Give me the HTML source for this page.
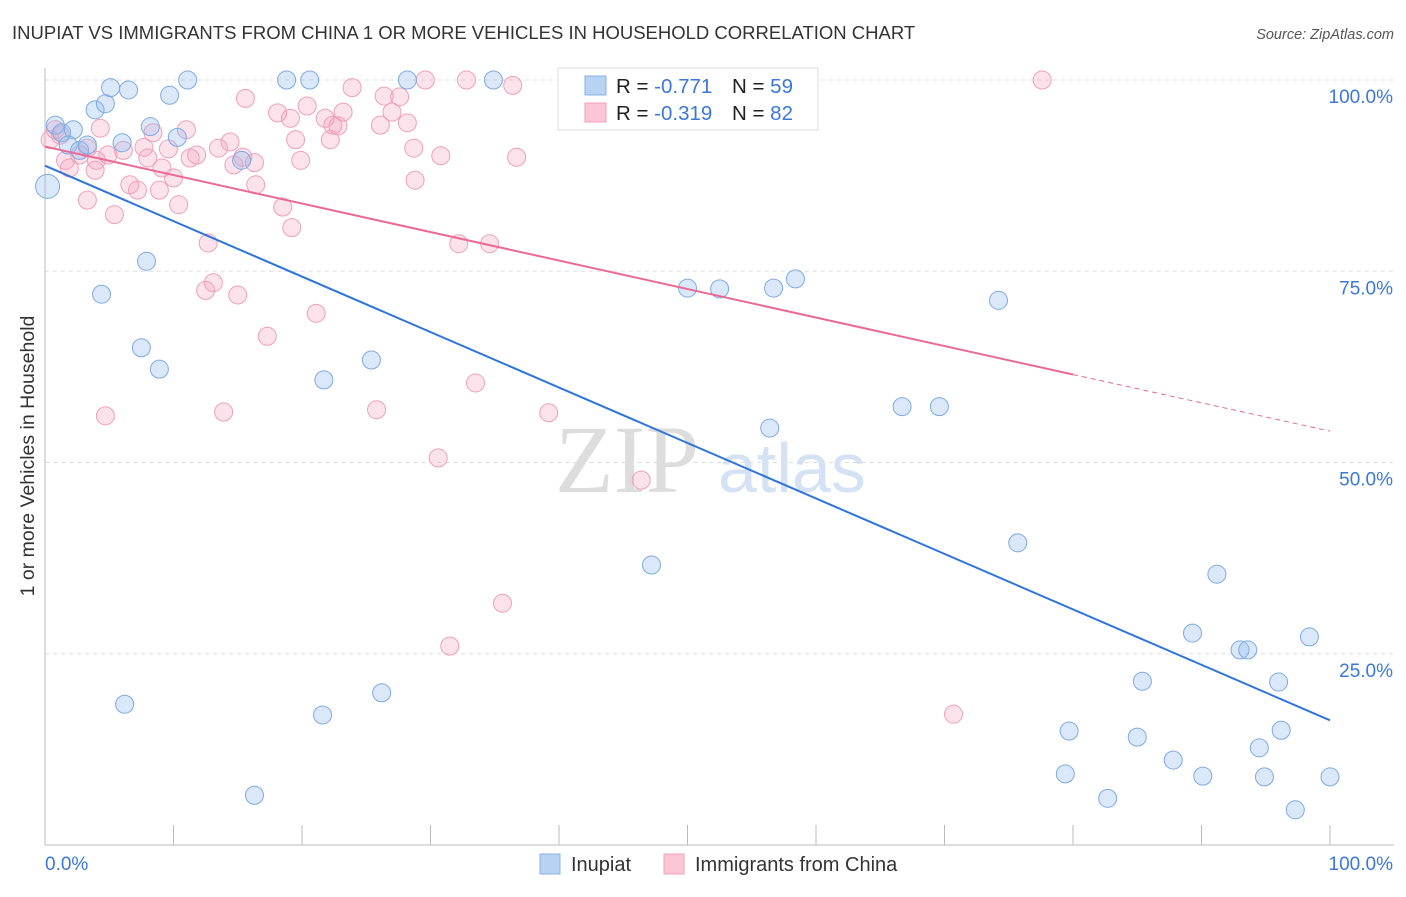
<!DOCTYPE html>
<html><head><meta charset="utf-8"><style>
body{margin:0;background:#fff;font-family:"Liberation Sans",sans-serif}
svg text{font-family:"Liberation Sans",sans-serif}
</style></head><body>
<svg id="c" width="1406" height="892" xmlns="http://www.w3.org/2000/svg">
<text x="12" y="39" font-size="18.5" fill="#333">INUPIAT VS IMMIGRANTS FROM CHINA 1 OR MORE VEHICLES IN HOUSEHOLD CORRELATION CHART</text>
<text x="1394" y="39" font-size="14.5" fill="#555" font-style="italic" text-anchor="end">Source: ZipAtlas.com</text>
<text transform="translate(34,456) rotate(-90)" font-size="19.5" fill="#333" text-anchor="middle">1 or more Vehicles in Household</text>
<g id="grid"></g>
<text x="555" y="492" font-size="96" fill="#ddd" style="font-family:'Liberation Serif',serif">ZIP</text>
<text x="718" y="492" font-size="70" fill="#d4e2f4">atlas</text>
<g id="pts"></g>
<g id="lines"></g>
<g>
<rect x="558" y="68" width="260" height="62" fill="#fff" stroke="#ddd"/>
<rect x="585" y="76" width="21" height="19" fill="#b8d2f4" stroke="#8ab2e6"/>
<rect x="585" y="103" width="21" height="19" fill="#fcc6d6" stroke="#f0a0ba"/>
<text x="616" y="93" font-size="20.5" fill="#222">R = <tspan fill="#3b78d8">-0.771</tspan><tspan x="732">N = </tspan><tspan fill="#3b78d8">59</tspan></text>
<text x="616" y="120" font-size="20.5" fill="#222">R = <tspan fill="#3b78d8">-0.319</tspan><tspan x="732">N = </tspan><tspan fill="#3b78d8">82</tspan></text>
</g>
<g>
<rect x="540" y="854" width="20" height="20" fill="#b8d2f4" stroke="#8ab2e6"/>
<text x="571" y="871" font-size="20" fill="#333">Inupiat</text>
<rect x="664" y="854" width="20" height="20" fill="#fcc6d6" stroke="#f0a0ba"/>
<text x="695" y="871" font-size="20" fill="#333">Immigrants from China</text>
</g>
</svg>
<script>
const yTicks=[25,50,75,100];
const yTickLabels=["25.0%","50.0%","75.0%","100.0%"];
const xEndLabels=["0.0%","100.0%"];
const blueX=[0.2,0.8,1.3,2.2,1.8,2.7,3.3,3.9,4.7,5.1,6.5,6.0,8.2,9.7,10.3,11.1,15.3,18.8,20.6,28.2,34.9,7.9,4.4,7.5,8.9,21.7,25.4,6.2,21.6,26.2,16.3,47.2,50.0,52.5,56.7,58.4,74.2,56.4,66.7,69.6,75.7,91.2,89.3,93.0,93.6,98.4,85.4,96.0,79.7,85.0,96.2,94.5,79.4,87.8,90.1,94.9,100,82.7,97.3];
const blueY=[86.1,94.1,93.1,93.5,91.5,90.8,91.5,96.1,96.9,99.0,98.7,91.8,93.9,98.0,92.5,100,89.5,100,100,100,100,76.3,72.0,65.0,62.2,60.8,63.4,18.4,17.0,19.9,6.5,36.6,72.8,72.7,72.8,74.0,71.2,54.5,57.3,57.3,39.5,35.4,27.7,25.5,25.5,27.2,21.4,21.3,14.9,14.1,15.0,12.7,9.3,11.1,9.0,8.9,8.9,6.1,4.6];
const pinkX=[0.4,0.8,1.2,1.6,1.9,2.7,3.3,3.9,4.0,4.9,3.3,5.4,6.1,6.6,7.2,7.7,8.0,8.4,8.9,9.1,9.6,10.0,10.4,11.0,11.3,11.8,12.7,12.5,13.1,13.5,14.4,14.7,15.0,15.4,16.3,16.4,15.6,17.3,18.1,18.5,19.1,19.2,19.5,19.9,20.4,21.1,21.8,22.2,22.4,22.8,23.2,23.9,26.1,26.4,27.0,27.6,28.2,28.7,28.8,29.6,30.8,32.8,36.4,36.7,32.2,34.6,33.5,30.6,25.8,39.2,46.4,35.6,31.5,40.9,4.7,13.9,77.6,70.7,4.3];
const pinkY=[92.2,93.5,92.8,89.5,88.5,90.2,91.1,88.2,89.5,90.2,84.3,82.4,90.8,86.3,85.6,91.2,89.8,93.1,85.6,88.5,91.0,87.2,83.7,93.5,89.8,90.2,78.7,72.5,73.5,91.1,91.9,88.9,71.9,89.9,89.2,86.3,97.6,66.5,95.7,83.4,95.0,80.7,92.2,89.5,96.6,69.5,95.0,92.2,94.1,94.0,95.8,99.0,94.1,97.9,95.8,97.8,94.4,91.1,86.9,100,90.1,100,99.3,89.9,78.6,78.6,60.4,50.6,56.9,56.5,47.7,31.6,26.0,100,56.1,56.6,100,17.1,93.7];
const blueFit=[88.8,16.3];
const pinkFit=[91.3,61.5,80,54.1];
const NS="http://www.w3.org/2000/svg";
const X=v=>45+v*12.85, Y=v=>845-v*7.65;
function mk(t,a,p){const e=document.createElementNS(NS,t);for(const k in a)e.setAttribute(k,a[k]);p.appendChild(e);return e;}
const g=document.getElementById('grid');
yTicks.forEach((t,i)=>{
 const l=mk('line',{x1:45,x2:1394,y1:Y(t),y2:Y(t),stroke:'#ddd','stroke-dasharray':'4,4'},g);
 
 
 const tx=mk('text',{x:1393,y:Y(t)+23,'font-size':19,fill:'#3b78d8','text-anchor':'end'},g);tx.textContent=yTickLabels[i];
 
 
});
const ax=mk('line',{x1:45,x2:1394,y1:845,y2:845,stroke:'#bbb'},g);


const ay=mk('line',{x1:45,x2:45,y1:68,y2:845,stroke:'#bbb'},g);


for(let i=0;i<=10;i++){const t=mk('line',{x1:X(i*10),x2:X(i*10),y1:825,y2:845,stroke:'#bbb'},g);
 
 }
[[0,'start',45],[100,'end',1393]].forEach((d,i)=>{const t=mk('text',{x:d[2],y:870,'font-size':19,fill:'#3b78d8','text-anchor':d[1]},g);t.textContent=xEndLabels[i];
 
 });
const p=document.getElementById('pts');
pinkX.forEach((x,i)=>{const c=mk('circle',{cx:X(x),cy:Y(pinkY[i]),r:9,fill:'rgba(245,160,190,0.3)',stroke:'#eea0bb','stroke-width':1},p);
 
 });
blueX.forEach((x,i)=>{const c=mk('circle',{cx:X(x),cy:Y(blueY[i]),r:i==0?12:9,fill:'rgba(150,190,240,0.35)',stroke:'#7eaae2','stroke-width':1},p);
 
 });
const L=document.getElementById('lines');
const bl=mk('line',{x1:X(0),y1:Y(blueFit[0]),x2:X(100),y2:Y(blueFit[1]),stroke:'#2f74d8','stroke-width':2},L);


const pl=mk('line',{x1:X(0),y1:Y(pinkFit[0]),x2:X(pinkFit[2]),y2:Y(pinkFit[1]),stroke:'#e86a95','stroke-width':2},L);


const pd=mk('line',{x1:X(pinkFit[2]),y1:Y(pinkFit[1]),x2:X(100),y2:Y(pinkFit[3]),stroke:'#e86a95','stroke-width':1,'stroke-dasharray':'5,4'},L);


</script>
</body></html>
